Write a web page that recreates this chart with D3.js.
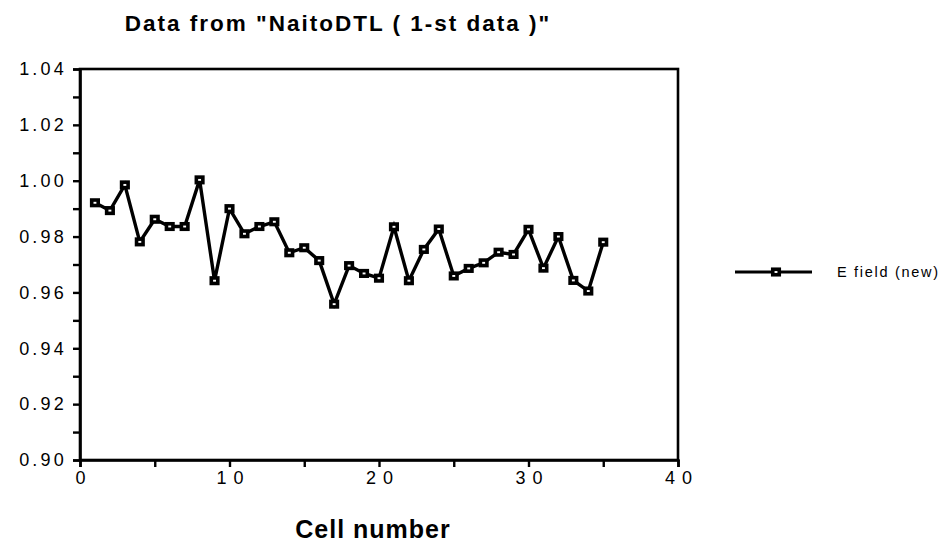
<!DOCTYPE html>
<html>
<head>
<meta charset="utf-8">
<script src="https://cdn.jsdelivr.net/npm/d3@7"></script>
<style>
  body { margin: 0; background: #fff; }
  svg { display: block; }
  text { font-family: "Liberation Sans", Arial, Helvetica, sans-serif; fill: #000; }
</style>
</head>
<body>
<svg id="chart" width="948" height="543"></svg>
<script>
const cells = [1,2,3,4,5,6,7,8,9,10,11,12,13,14,15,16,17,18,19,20,21,22,23,24,25,26,27,28,29,30,31,32,33,34,35];
const eField = [0.9921,0.9893,0.9985,0.9781,0.9862,0.9836,0.9836,1.0003,0.9642,0.9900,0.9810,0.9836,0.9853,0.9742,0.9760,0.9714,0.9558,0.9696,0.9668,0.9651,0.9835,0.9642,0.9754,0.9827,0.9659,0.9686,0.9706,0.9744,0.9736,0.9826,0.9687,0.9800,0.9643,0.9605,0.9780];
const seriesName = "E field (new)";
const yTickValues = [0.90,0.91,0.92,0.93,0.94,0.95,0.96,0.97,0.98,0.99,1.00,1.01,1.02,1.03,1.04];
const yLabelValues = [0.90,0.92,0.94,0.96,0.98,1.00,1.02,1.04];
const xTickValues = [0,5,10,15,20,25,30,35,40];
const xLabelValues = [0,10,20,30,40];
const titleText = 'Data from "NaitoDTL ( 1-st data )"';
const xAxisTitle = "Cell number";

const svg = d3.select("#chart");
const L = 80, R = 678, T = 69, B = 460;
const x = d3.scaleLinear().domain([0, 40]).range([L, R]);
const y = d3.scaleLinear().domain([0.90, 1.04]).range([B, T]);

// title
svg.append("text")
  .attr("x", 338).attr("y", 31)
  .attr("text-anchor", "middle")
  .attr("font-size", 22.5).attr("font-weight", "bold")
  .attr("letter-spacing", 2)
  .text(titleText);

// frame
svg.append("rect")
  .attr("x", L).attr("y", T).attr("width", R - L).attr("height", B - T)
  .attr("fill", "none").attr("stroke", "#000").attr("stroke-width", 2.6);

// y axis
const yAxis = d3.axisLeft(y)
  .tickValues(yTickValues)
  .tickSize(7)
  .tickPadding(6)
  .tickFormat(d => yLabelValues.some(v => Math.abs(v - d) < 1e-9) ? d3.format(".2f")(d) : "");
const gy = svg.append("g").attr("transform", `translate(${L},0)`).call(yAxis);
gy.select(".domain").attr("stroke-width", 2.6);
gy.selectAll(".tick line").attr("stroke-width", 2.4);
gy.selectAll(".tick text")
  .attr("font-size", 18).attr("letter-spacing", 3.2)
  .style("font-family", '"Liberation Sans", Arial, sans-serif');

// x axis
const xAxis = d3.axisBottom(x)
  .tickValues(xTickValues)
  .tickSize(7)
  .tickPadding(4)
  .tickFormat(d => xLabelValues.includes(d) ? String(d) : "");
const gx = svg.append("g").attr("transform", `translate(0,${B})`).call(xAxis);
gx.select(".domain").attr("stroke-width", 2.6);
gx.selectAll(".tick line").attr("stroke-width", 2.4);
gx.selectAll(".tick text")
  .attr("font-size", 18).attr("letter-spacing", 7)
  .attr("dx", 3.5)
  .style("font-family", '"Liberation Sans", Arial, sans-serif');

// x axis title
svg.append("text")
  .attr("x", (L + R) / 2 - 6).attr("y", 538)
  .attr("text-anchor", "middle")
  .attr("font-size", 25).attr("font-weight", "bold")
  .attr("letter-spacing", 1)
  .text(xAxisTitle);

// line
const data = cells.map((c, i) => ({ c, v: eField[i] }));
const line = d3.line().x(d => x(d.c)).y(d => y(d.v));
svg.append("path")
  .datum(data)
  .attr("d", line)
  .attr("fill", "none")
  .attr("stroke", "#000")
  .attr("stroke-width", 3.4)
  .attr("stroke-linejoin", "miter");

function marker(sel) {
  sel.append("rect")
    .attr("x", -3.25).attr("y", -2.75).attr("width", 6.5).attr("height", 5.5)
    .attr("fill", "#fff").attr("stroke", "#000").attr("stroke-width", 3.6);
}
svg.selectAll("g.pt").data(data).join("g")
  .attr("class", "pt")
  .attr("transform", d => `translate(${x(d.c)},${y(d.v)})`)
  .call(marker);

// legend
const lg = svg.append("g").attr("transform", "translate(735,272)");
lg.append("line").attr("x1", 0).attr("x2", 77).attr("y1", 0).attr("y2", 0)
  .attr("stroke", "#000").attr("stroke-width", 3.2);
lg.append("g").attr("transform", "translate(41,0)").call(marker);
lg.append("text")
  .attr("x", 102).attr("y", 5)
  .attr("font-size", 14.5)
  .attr("letter-spacing", 1.7)
  .text(seriesName);
</script>
</body>
</html>
